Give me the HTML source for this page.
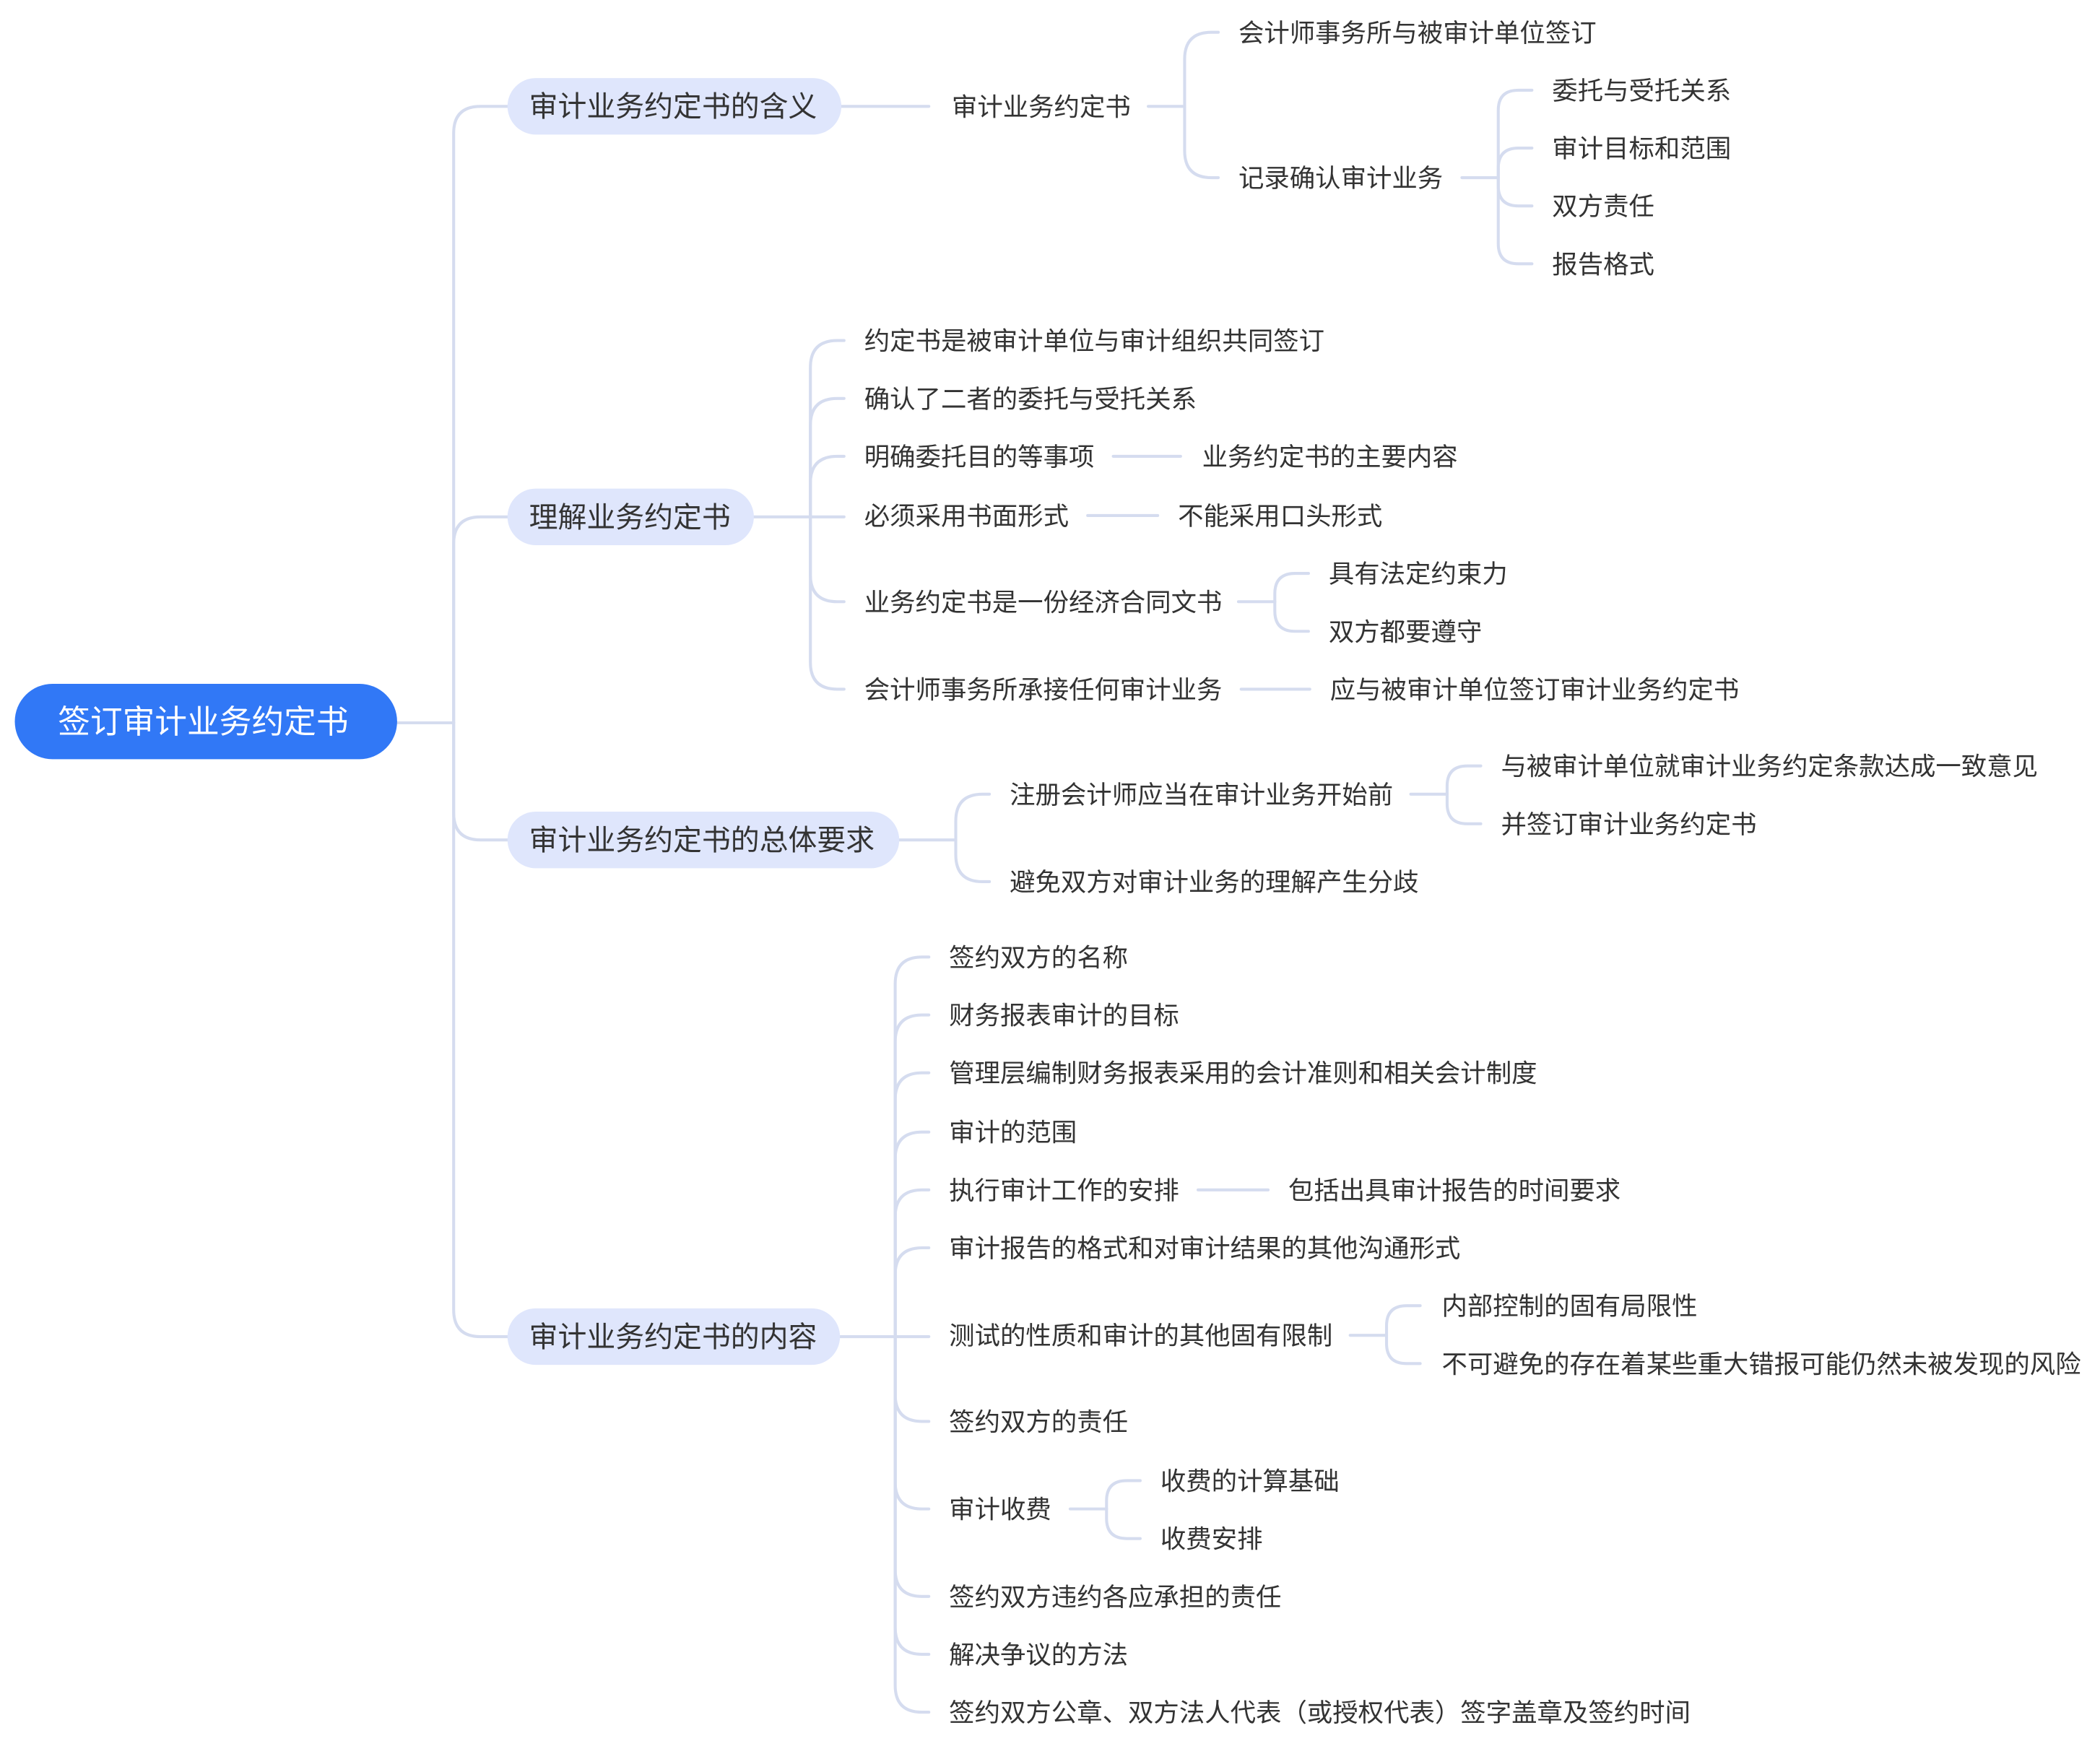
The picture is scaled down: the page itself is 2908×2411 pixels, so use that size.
<!DOCTYPE html>
<html><head><meta charset="utf-8"><style>
html,body{margin:0;padding:0;background:#fff;}
svg{display:block;}
text{font-family:"Liberation Sans","Noto Sans CJK SC",sans-serif;fill:#333;}
</style></head><body>
<svg width="2908" height="2411" viewBox="0 0 1560 1293.4" preserveAspectRatio="none" xmlns="http://www.w3.org/2000/svg">
<rect x="0" y="0" width="1560" height="1294" fill="#fff"/>
<g fill="none" stroke="#d5dcef" stroke-width="2.2" stroke-linecap="round">
<path d="M295 537 H337"/>
<path d="M337 537 V99 Q337 79 357 79 H377"/>
<path d="M337 537 V404 Q337 384 357 384 H377"/>
<path d="M337 537 V604 Q337 624 357 624 H377"/>
<path d="M337 537 V973 Q337 993 357 993 H377"/>
<path d="M625 79 H690"/>
<path d="M853 79 H880"/>
<path d="M880 79 V44 Q880 24 900 24 H905"/>
<path d="M880 79 V112 Q880 132 900 132 H905"/>
<path d="M1086 132 H1113"/>
<path d="M1113 132 V82 Q1113 67 1128 67 H1138"/>
<path d="M1113 132 V125 Q1113 110 1128 110 H1138"/>
<path d="M1113 132 V138 Q1113 153 1128 153 H1138"/>
<path d="M1113 132 V181 Q1113 196 1128 196 H1138"/>
<path d="M560 384 H602"/>
<path d="M602 384 V273 Q602 253 622 253 H627"/>
<path d="M602 384 V316 Q602 296 622 296 H627"/>
<path d="M602 384 V359 Q602 339 622 339 H627"/>
<path d="M602 384 H627"/>
<path d="M602 384 V427 Q602 447 622 447 H627"/>
<path d="M602 384 V492 Q602 512 622 512 H627"/>
<path d="M827 339 H877"/>
<path d="M808 383 H860"/>
<path d="M920 447 H947"/>
<path d="M947 447 V441 Q947 426 962 426 H972"/>
<path d="M947 447 V454 Q947 469 962 469 H972"/>
<path d="M922 512 H973"/>
<path d="M668 624 H710"/>
<path d="M710 624 V610 Q710 590 730 590 H735"/>
<path d="M710 624 V635 Q710 655 730 655 H735"/>
<path d="M1048 590 H1075"/>
<path d="M1075 590 V584 Q1075 569 1090 569 H1100"/>
<path d="M1075 590 V597 Q1075 612 1090 612 H1100"/>
<path d="M624 993 H665"/>
<path d="M665 993 V731 Q665 711 685 711 H690"/>
<path d="M665 993 V774 Q665 754 685 754 H690"/>
<path d="M665 993 V817 Q665 797 685 797 H690"/>
<path d="M665 993 V861 Q665 841 685 841 H690"/>
<path d="M665 993 V904 Q665 884 685 884 H690"/>
<path d="M665 993 V947 Q665 927 685 927 H690"/>
<path d="M665 993 H690"/>
<path d="M665 993 V1036 Q665 1056 685 1056 H690"/>
<path d="M665 993 V1101 Q665 1121 685 1121 H690"/>
<path d="M665 993 V1166 Q665 1186 685 1186 H690"/>
<path d="M665 993 V1209 Q665 1229 685 1229 H690"/>
<path d="M665 993 V1252 Q665 1272 685 1272 H690"/>
<path d="M890 884 H942"/>
<path d="M1003 992 H1030"/>
<path d="M1030 992 V985 Q1030 970 1045 970 H1055"/>
<path d="M1030 992 V998 Q1030 1013 1045 1013 H1055"/>
<path d="M795 1121 H822"/>
<path d="M822 1121 V1115 Q822 1100 837 1100 H847"/>
<path d="M822 1121 V1128 Q822 1143 837 1143 H847"/>
</g>
<rect x="11" y="508" width="284" height="56" rx="28" fill="#3178f6"/>
<text x="43" y="544.5" font-size="24" style="fill:#fff">签订审计业务约定书</text>
<g fill="#dfe6fc">
<rect x="377" y="58" width="248" height="42" rx="21"/>
<rect x="377" y="363" width="183" height="42" rx="21"/>
<rect x="377" y="603" width="291" height="42" rx="21"/>
<rect x="377" y="972" width="247" height="42" rx="21"/>
</g>
<g font-size="21.4">
<text x="393" y="86.5">审计业务约定书的含义</text>
<text x="393" y="391.5">理解业务约定书</text>
<text x="393" y="631.5">审计业务约定书的总体要求</text>
<text x="393" y="1000.5">审计业务约定书的内容</text>
</g>
<g font-size="19">
<text x="707" y="86">审计业务约定书</text>
<text x="920" y="31">会计师事务所与被审计单位签订</text>
<text x="920" y="139">记录确认审计业务</text>
<text x="1153" y="74">委托与受托关系</text>
<text x="1153" y="117">审计目标和范围</text>
<text x="1153" y="160">双方责任</text>
<text x="1153" y="203">报告格式</text>
<text x="642" y="260">约定书是被审计单位与审计组织共同签订</text>
<text x="642" y="303">确认了二者的委托与受托关系</text>
<text x="642" y="346">明确委托目的等事项</text>
<text x="893" y="346">业务约定书的主要内容</text>
<text x="642" y="390">必须采用书面形式</text>
<text x="875" y="390">不能采用口头形式</text>
<text x="642" y="454">业务约定书是一份经济合同文书</text>
<text x="987" y="433">具有法定约束力</text>
<text x="987" y="476">双方都要遵守</text>
<text x="642" y="519">会计师事务所承接任何审计业务</text>
<text x="988" y="519">应与被审计单位签订审计业务约定书</text>
<text x="750" y="597">注册会计师应当在审计业务开始前</text>
<text x="1115" y="576">与被审计单位就审计业务约定条款达成一致意见</text>
<text x="1115" y="619">并签订审计业务约定书</text>
<text x="750" y="662">避免双方对审计业务的理解产生分歧</text>
<text x="705" y="718">签约双方的名称</text>
<text x="705" y="761">财务报表审计的目标</text>
<text x="705" y="804">管理层编制财务报表采用的会计准则和相关会计制度</text>
<text x="705" y="848">审计的范围</text>
<text x="705" y="891">执行审计工作的安排</text>
<text x="957" y="891">包括出具审计报告的时间要求</text>
<text x="705" y="934">审计报告的格式和对审计结果的其他沟通形式</text>
<text x="705" y="999">测试的性质和审计的其他固有限制</text>
<text x="1071" y="977">内部控制的固有局限性</text>
<text x="1071" y="1020">不可避免的存在着某些重大错报可能仍然未被发现的风险</text>
<text x="705" y="1063">签约双方的责任</text>
<text x="705" y="1128">审计收费</text>
<text x="862" y="1107">收费的计算基础</text>
<text x="862" y="1150">收费安排</text>
<text x="705" y="1193">签约双方违约各应承担的责任</text>
<text x="705" y="1236">解决争议的方法</text>
<text x="705" y="1279">签约双方公章、双方法人代表（或授权代表）签字盖章及签约时间</text>
</g>
</svg>
</body></html>
